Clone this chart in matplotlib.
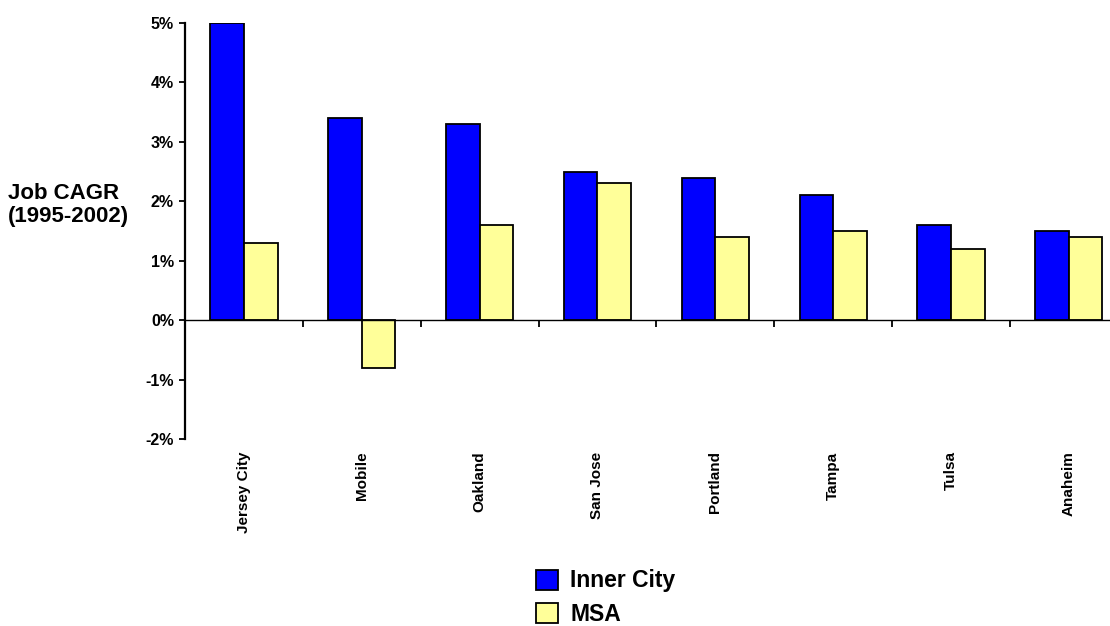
import numpy as np
import matplotlib
matplotlib.use('Agg')
from matplotlib import pyplot as plt
from matplotlib.ticker import FuncFormatter, FixedLocator

plt.rcParams['font.family'] = ['Liberation Sans', 'DejaVu Sans']
plt.rcParams['font.weight'] = 'bold'

cities = ['Jersey City', 'Mobile', 'Oakland', 'San Jose', 'Portland', 'Tampa', 'Tulsa', 'Anaheim']
inner_city = [5.0, 3.4, 3.3, 2.5, 2.4, 2.1, 1.6, 1.5]
msa = [1.3, -0.8, 1.6, 2.3, 1.4, 1.5, 1.2, 1.4]

fig = plt.figure(figsize=(11.10, 6.26), dpi=100)
ax = fig.add_axes([0.1667, 0.2987, 0.8493, 0.6646])

x = np.arange(len(cities))
w = 0.285
ax.bar(x - w / 2, inner_city, w, color='#0000FF', edgecolor='black', linewidth=1.3, label='Inner City')
ax.bar(x + w / 2, msa, w, color='#FFFF99', edgecolor='black', linewidth=1.3, label='MSA')

ax.set_xlim(-0.5, 7.5)
ax.set_ylim(-2, 5)
ax.set_yticks(range(-2, 6))
ax.yaxis.set_major_formatter(FuncFormatter(lambda v, p: '%d%%' % v))
ax.tick_params(axis='y', direction='out', length=4, width=1.3, labelsize=11.5, pad=4)

# zero line carries the category boundary ticks
for s in ['top', 'right']:
    ax.spines[s].set_visible(False)
ax.spines['bottom'].set_position(('data', 0))
ax.spines['bottom'].set_linewidth(1.0)
ax.spines['left'].set_linewidth(1.6)
ax.xaxis.set_major_locator(FixedLocator(x + 0.5))
ax.tick_params(axis='x', direction='out', length=5, width=1.3, labelbottom=False)

for xi, name in zip(x, cities):
    ax.text(xi, -0.03, name, transform=ax.get_xaxis_transform(), rotation=90,
            ha='center', va='top', fontsize=11, fontweight='bold')

fig.text(0.007, 0.673, 'Job CAGR\n(1995-2002)', ha='left', va='center', fontsize=16,
         fontweight='bold', linespacing=1.1)

fig.legend(loc='upper left', bbox_to_anchor=(0.475, 0.105), frameon=False,
           prop={'size': 16.5, 'weight': 'bold'}, handlelength=0.92, handleheight=0.96,
           labelspacing=0.45, handletextpad=0.55, borderaxespad=0)

fig.savefig('out.png', dpi=100)
